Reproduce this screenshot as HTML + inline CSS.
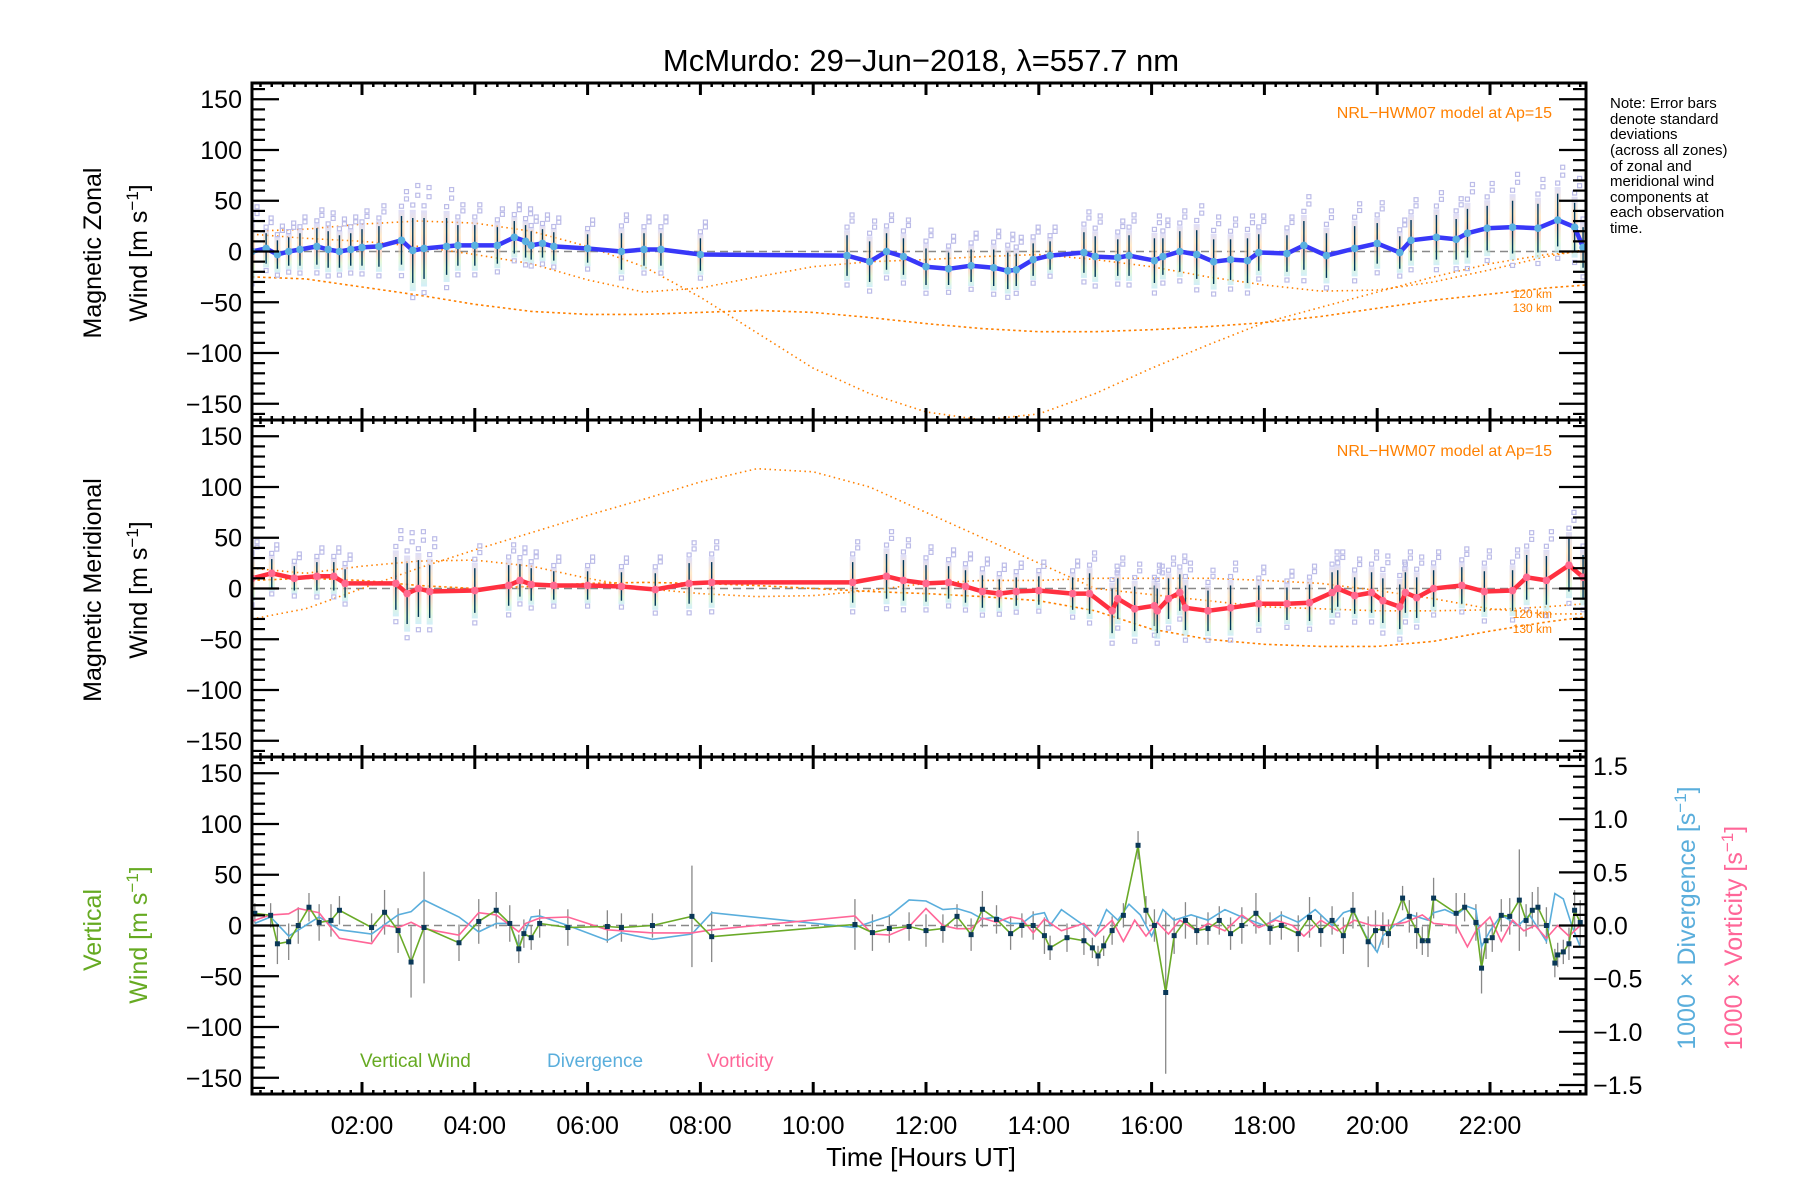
<!DOCTYPE html>
<html><head><meta charset="utf-8">
<style>
html,body{margin:0;padding:0;background:#fff;}
svg{display:block;font-family:"Liberation Sans",sans-serif;}
</style></head>
<body>
<svg id="chart" width="1800" height="1200" viewBox="0 0 1800 1200" xmlns="http://www.w3.org/2000/svg">
<defs>
<linearGradient id="band" x1="0" y1="0" x2="0" y2="1">
<stop offset="0" stop-color="#c8c8f4"/><stop offset="0.3" stop-color="#ffdca8"/>
<stop offset="0.55" stop-color="#ffb4a4"/><stop offset="0.8" stop-color="#d4f4c0"/>
<stop offset="1" stop-color="#b4e4f4"/></linearGradient>
<clipPath id="c1"><rect x="252" y="83" width="1334" height="337"/></clipPath>
<clipPath id="c2"><rect x="252" y="420" width="1334" height="337"/></clipPath>
<clipPath id="c3"><rect x="252" y="757" width="1334" height="336"/></clipPath>
</defs>
<text x="921" y="71" font-size="31" text-anchor="middle">McMurdo: 29−Jun−2018, λ=557.7 nm</text>
<g font-size="15" fill="#000">
<text x="1610" y="108">Note: Error bars</text><text x="1610" y="124">denote standard</text>
<text x="1610" y="139">deviations</text><text x="1610" y="155">(across all zones)</text>
<text x="1610" y="171">of zonal and</text><text x="1610" y="186">meridional wind</text>
<text x="1610" y="202">components at</text><text x="1610" y="217">each observation</text>
<text x="1610" y="233">time.</text></g>
<g id="layer"></g>
</svg>
<script>
// ---- time axis
const xTickLabels = ["02:00","04:00","06:00","08:00","10:00","12:00","14:00","16:00","18:00","20:00","22:00"];
const xTickHours = [2,4,6,8,10,12,14,16,18,20,22];
const yTickValues = [150,100,50,0,-50,-100,-150];
const yTickLabels = ["150","100","50","0","−50","−100","−150"];
const rTickValues = [1.5,1.0,0.5,0.0,-0.5,-1.0,-1.5];
const rTickLabels = ["1.5","1.0","0.5","0.0","−0.5","−1.0","−1.5"];
// ---- zonal
const zT = [0.05,0.3,0.5,0.7,0.9,1.2,1.4,1.6,1.8,2.0,2.3,2.7,2.9,3.1,3.5,3.7,4.0,4.4,4.7,4.9,5.0,5.2,5.4,6.0,6.6,7.0,7.3,8.0,10.6,11.0,11.3,11.6,12.0,12.4,12.8,13.2,13.45,13.6,13.9,14.2,14.8,15.0,15.4,15.6,16.05,16.2,16.5,16.8,17.1,17.4,17.7,17.9,18.4,18.7,19.1,19.6,20.0,20.4,20.6,21.05,21.4,21.6,21.95,22.4,22.85,23.2,23.5,23.65];
const zV = [0,3,-3,0,2,5,2,0,2,4,5,11,1,3,5,6,6,6,14,10,6,8,5,3,0,2,2,-3,-4,-10,0,-5,-15,-17,-14,-16,-19,-18,-8,-4,-1,-5,-6,-4,-9,-5,0,-3,-10,-8,-9,-1,-2,6,-4,3,8,-1,11,14,12,18,23,24,23,31,24,4];
const zSd = [22,15,14,14,16,18,18,16,16,18,20,24,32,30,28,20,20,18,16,16,14,14,14,14,18,16,16,16,20,20,18,18,18,16,16,18,18,16,16,14,20,20,18,20,22,18,20,24,22,20,22,18,18,24,22,22,20,16,20,22,20,24,22,26,24,26,24,20];
// ---- meridional
const mT = [0.05,0.4,0.8,1.2,1.5,1.7,2.6,2.8,3.0,3.2,4.0,4.6,4.8,5.0,5.4,6.0,6.6,7.2,7.8,8.2,10.7,11.3,11.6,12.0,12.4,12.7,13.0,13.3,13.6,14.0,14.6,14.9,15.3,15.4,15.7,16.05,16.1,16.3,16.5,16.6,17.0,17.4,17.9,18.4,18.8,19.2,19.3,19.6,19.9,20.1,20.4,20.5,20.7,21.0,21.5,21.9,22.4,22.65,23.0,23.4,23.65];
const mV = [10,15,10,12,12,5,5,-5,0,-3,-2,3,8,4,3,3,2,-1,5,6,6,12,8,5,6,2,-3,-5,-3,-2,-5,-5,-22,-10,-20,-17,-22,-10,-4,-19,-22,-19,-15,-15,-14,-4,0,-7,-4,-12,-18,-4,-9,0,3,-3,-2,11,8,23,11];
const mSd = [18,14,12,14,14,14,26,30,28,26,22,20,16,16,14,14,14,16,20,20,20,22,20,18,16,16,16,14,14,14,16,20,22,20,22,20,22,20,18,22,20,22,18,16,18,20,18,18,20,22,22,20,20,18,18,20,20,22,24,26,22];
// ---- model curves (NRL-HWM07)
const modelT = [0.05,1,2,3,4,5,6,7,8,9,10,11,12,13,14,15,16,17,18,19,20,21,22,23,23.7];
const zModelA = [20,22,27,30,28,20,5,-15,-45,-80,-115,-140,-158,-166,-160,-140,-115,-92,-70,-55,-40,-25,-12,-3,0];
const zModelB = [-25,-27,-35,-43,-52,-59,-62,-62,-60,-58,-60,-65,-71,-76,-79,-79,-77,-74,-70,-64,-56,-48,-42,-36,-33];
const zModelC = [17,13,10,5,-3,-12,-28,-40,-36,-25,-15,-10,-8,-5,-3,-8,-15,-25,-33,-39,-38,-30,-18,-5,2];
const mModelP = [-30,-20,0,20,38,55,72,88,105,118,115,100,75,50,25,0,-6,-12,-18,-20,-22,-22,-21,-18,-15];
const mModelQ = [20,15,22,27,28,22,10,0,-5,-8,-7,-2,5,8,8,10,10,10,8,5,-2,-10,-20,-25,-25];
const mModelR = [8,10,8,3,0,2,5,6,5,3,0,-3,-5,-8,-12,-22,-40,-50,-55,-57,-57,-52,-42,-33,-28];
// ---- vertical wind
const wT = [0.1,0.38,0.5,0.7,0.87,1.06,1.24,1.45,1.6,2.17,2.4,2.64,2.87,3.1,3.72,4.07,4.38,4.62,4.78,4.87,5.0,5.15,5.65,6.35,6.6,7.15,7.85,8.2,10.74,11.05,11.35,11.7,12.0,12.3,12.55,12.8,13.0,13.25,13.5,13.7,13.9,14.1,14.2,14.5,14.8,14.95,15.05,15.15,15.3,15.5,15.76,15.9,16.05,16.25,16.4,16.6,16.8,17.0,17.2,17.4,17.6,17.85,18.1,18.3,18.6,18.8,19.0,19.2,19.4,19.57,19.84,19.97,20.1,20.2,20.45,20.57,20.7,20.8,20.9,21.0,21.4,21.55,21.75,21.85,21.93,22.04,22.2,22.35,22.52,22.64,22.75,22.85,23.0,23.15,23.2,23.3,23.4,23.5,23.6];
const wV = [12,10,-18,-16,0,18,3,5,15,-2,13,-5,-36,-2,-17,4,15,2,-23,-8,-12,2,-2,-1,-2,0,9,-11,1,-7,-3,-1,-5,-3,9,-9,16,6,-8,0,0,-10,-22,-12,-15,-22,-30,-20,-5,10,79,15,0,-66,-10,5,-5,-3,5,-8,0,12,-3,0,-8,8,-5,5,-10,15,-16,-5,-3,-8,27,9,-5,-15,-15,27,12,18,3,-42,-15,-12,10,9,25,5,15,18,0,-37,-29,-26,-18,15,3];
const wE = [10,12,20,18,18,14,18,16,14,14,22,22,35,55,18,22,18,18,14,14,12,14,18,16,14,12,50,25,25,18,14,14,16,14,12,16,18,14,16,12,14,18,12,14,14,10,10,10,14,12,14,14,16,80,18,18,14,16,14,16,18,20,16,14,18,20,16,14,18,18,25,20,16,14,12,16,18,14,16,20,20,14,18,25,18,14,16,18,50,16,18,20,18,14,12,12,16,20,22];
// ---- divergence (1000 x s^-1)
const dT = [0.1,0.38,0.7,1.24,1.6,2.17,2.64,2.87,3.1,3.72,4.07,4.38,4.62,4.78,5.0,5.15,5.65,6.35,6.6,7.15,7.85,8.2,10.74,11.35,11.7,12.0,12.3,12.55,12.8,13.0,13.25,13.5,13.7,13.9,14.1,14.2,14.4,14.8,15.0,15.2,15.4,15.6,15.8,16.0,16.2,16.4,16.7,17.0,17.3,17.6,18.0,18.3,18.6,18.9,19.2,19.4,19.57,19.8,20.0,20.1,20.3,20.6,20.9,21.0,21.2,21.4,21.6,21.75,21.85,22.0,22.2,22.5,22.7,23.0,23.15,23.3,23.45,23.6];
const dV = [0.02,0.08,-0.1,0.08,-0.04,-0.08,0.1,0.13,0.24,0.08,-0.06,0.02,0.02,-0.2,0.08,0.09,0,-0.14,-0.07,-0.13,-0.08,0.12,-0.02,0.09,0.24,0.23,0.15,0.16,0.12,0.06,0.08,0.02,0.02,0.1,0.12,0,0.15,0.0,-0.1,0.15,0.05,0.2,0.1,-0.1,0.15,0.05,0.1,0.05,0.15,0.08,0.0,0.1,0.03,0.15,0.0,0.12,0.15,-0.1,-0.25,-0.1,0.0,0.1,0.05,0.12,0.15,0.1,0.18,0.15,-0.2,-0.05,0.1,0.0,0.1,-0.15,0.3,0.25,0.0,-0.2];
// ---- vorticity (1000 x s^-1)
const vT = [0.05,0.38,0.7,0.87,1.24,1.6,2.17,2.4,2.64,2.87,3.1,3.72,4.07,4.38,4.78,4.9,5.15,5.65,6.35,7.15,7.85,8.2,10.74,11.05,11.35,11.7,12.0,12.3,12.55,12.8,13.0,13.25,13.5,13.7,13.9,14.1,14.4,14.8,15.0,15.3,15.5,15.7,15.9,16.1,16.3,16.5,16.8,17.0,17.3,17.6,17.9,18.2,18.5,18.7,19.0,19.3,19.6,19.9,20.2,20.5,20.8,21.0,21.4,21.6,21.75,22.0,22.2,22.4,22.6,22.8,23.0,23.2,23.4,23.6];
const vV = [0.04,0.1,0.11,0.16,0.12,-0.12,-0.17,0,-0.02,0.03,-0.03,-0.09,0.12,0.1,-0.06,0.02,0.07,0.08,-0.04,-0.07,-0.07,-0.04,0.09,-0.08,-0.09,-0.01,0.16,0,-0.03,-0.03,0.07,0.03,0.08,0.06,-0.07,0.06,-0.05,0.02,-0.1,0.05,-0.15,0.05,-0.1,0.03,-0.08,0.05,-0.05,0.02,-0.05,0.1,-0.02,0.05,0.0,-0.1,0.05,-0.05,0.05,0.0,0.0,0.03,0.1,0.02,0.0,-0.2,-0.05,0.08,-0.15,0.05,-0.05,0.0,-0.12,0.0,-0.1,0.0];

const NS = "http://www.w3.org/2000/svg";
const layer = document.getElementById('layer');
const L = 252, R = 1586, PT = [83, 420, 757], PH = 337, VMAX = 166, RMAX = 1.585;
function xOf(t){ return 362 + (t - 2) * 56.4; }
function yOf(p, v){ return PT[p] + (VMAX - v) * PH / (2 * VMAX); }
function yR(v){ return PT[2] + (RMAX - v) * PH / (2 * RMAX); }
function mk(tag, attrs, parent){
  const e = document.createElementNS(NS, tag);
  for (const k in attrs) e.setAttribute(k, attrs[k]);
  (parent || layer).appendChild(e);
  return e;
}
function grp(name, clip){
  const g = mk('g', clip ? {'clip-path': 'url(#' + clip + ')'} : {});
  
  
  return g;
}
function pts(T, V, fy){ return T.map((t, i) => xOf(t).toFixed(1) + ',' + fy(V[i]).toFixed(1)).join(' '); }

for (let p = 0; p < 3; p++){
  const l = mk('line', {x1: L, x2: R, y1: yOf(p, 0), y2: yOf(p, 0), stroke: '#888', 'stroke-width': 1.5, 'stroke-dasharray': '8 5'});
  
  
}

function model(p, V, dash, name){
  const g = grp(name, 'c' + (p + 1));
  const pl = mk('polyline', {points: pts(modelT, V, v => yOf(p, v)), fill: 'none', stroke: '#ff8000', 'stroke-width': 1.6, 'stroke-dasharray': dash}, g);
  
  
}
model(0, zModelA, '1.5 3.5', 'zonal-model-120km');
model(0, zModelB, '2.5 3', 'zonal-model-130km');
model(0, zModelC, '1.5 3.5', 'zonal-model-alt');
model(1, mModelP, '1.5 3.5', 'meridional-model-120km');
model(1, mModelQ, '1.5 3.5', 'meridional-model-alt');
model(1, mModelR, '2.5 3', 'meridional-model-130km');

function windPanel(p, T, V, SD, lineColor, dotColor, name){
  const g = grp(name, 'c' + (p + 1));
  T.forEach((t, i) => {
    const x = xOf(t), v = V[i], s = SD[i];
    const b = mk('rect', {x: x - 3, y: yOf(p, v + s * 1.25), width: 6, height: yOf(p, v - s * 1.25) - yOf(p, v + s * 1.25), fill: 'url(#band)', opacity: 0.6}, g);
    
    
    [1.4, 1.7, 2.0, -1.45].forEach(f => {
      const q = mk('rect', {x: x - 2 + (f > 1.6 ? 5 : 0), y: yOf(p, v + s * f) - 2, width: 4, height: 4, fill: 'none', stroke: '#bcbce8', 'stroke-width': 1.2}, g);
      
      
    });
    const e = mk('line', {x1: x, x2: x, y1: yOf(p, v + s), y2: yOf(p, v - s), stroke: '#00385a', 'stroke-width': 1.4}, g);
    
    
  });
  const pl = mk('polyline', {points: pts(T, V, v => yOf(p, v)), fill: 'none', stroke: lineColor, 'stroke-width': 4.5, 'stroke-linejoin': 'round'}, g);
  
  
  T.forEach((t, i) => {
    const c = mk('circle', {cx: xOf(t), cy: yOf(p, V[i]), r: 3.8, fill: dotColor}, g);
    
    
  });
}
windPanel(0, zT, zV, zSd, '#3838f8', '#5ab0e0', 'zonal-wind-series');
windPanel(1, mT, mV, mSd, '#ff3040', '#ff6a90', 'meridional-wind-series');

{
  const g = grp('vertical-panel-series', 'c3');
  wT.forEach((t, i) => {
    const e = mk('line', {x1: xOf(t), x2: xOf(t), y1: yOf(2, wV[i] + wE[i]), y2: yOf(2, wV[i] - wE[i]), stroke: '#888', 'stroke-width': 1.3}, g);
    
    
  });
  const d = mk('polyline', {points: pts(dT, dV, yR), fill: 'none', stroke: '#5aaedc', 'stroke-width': 1.6}, g);
  
  
  const vo = mk('polyline', {points: pts(vT, vV, yR), fill: 'none', stroke: '#ff6698', 'stroke-width': 1.6}, g);
  
  
  const w = mk('polyline', {points: pts(wT, wV, v => yOf(2, v)), fill: 'none', stroke: '#6aaa28', 'stroke-width': 1.6}, g);
  
  
  wT.forEach((t, i) => {
    const s = mk('rect', {x: xOf(t) - 2.5, y: yOf(2, wV[i]) - 2.5, width: 5, height: 5, fill: '#0a3858'}, g);
    
    
  });
}

const ax = grp('axes', null);
for (let p = 0; p < 3; p++){
  const top = PT[p], bot = top + PH;
  const fr = mk('rect', {x: L, y: top, width: R - L, height: PH, fill: 'none', stroke: '#000', 'stroke-width': 3}, ax);
  
  
  for (let v = -160; v <= 160; v += 10){
    const y = yOf(p, v), major = v % 50 === 0, len = major ? 27 : 13;
    mk('line', {x1: L, x2: L + len, y1: y, y2: y, stroke: '#000', 'stroke-width': 2.2}, ax);
    if (p < 2) mk('line', {x1: R, x2: R - len, y1: y, y2: y, stroke: '#000', 'stroke-width': 2.2}, ax);
  }
  yTickValues.forEach((v, i) => {
    const t = mk('text', {x: 242, y: yOf(p, v) + 9, 'font-size': 25, 'text-anchor': 'end'}, ax);
    t.textContent = yTickLabels[i];
    
    
  });
  for (let k = 0; k <= 120; k++){
    const t = k * 0.2;
    const x = xOf(t);
    if (x < L || x > R) continue;
    const major = k % 10 === 0 && k > 0, len = major ? 12 : 4;
    mk('line', {x1: x, x2: x, y1: top, y2: top + len, stroke: '#000', 'stroke-width': major ? 3 : 2.5}, ax);
    mk('line', {x1: x, x2: x, y1: bot, y2: bot - len, stroke: '#000', 'stroke-width': major ? 3 : 2.5}, ax);
  }
}
for (let k = -15; k <= 15; k++){
  const v = k / 10, y = yR(v), major = k % 5 === 0, len = major ? 27 : 13;
  mk('line', {x1: R, x2: R - len, y1: y, y2: y, stroke: '#000', 'stroke-width': 2.2}, ax);
}
rTickValues.forEach((v, i) => {
  const t = mk('text', {x: 1593, y: yR(v) + 9, 'font-size': 25}, ax);
  t.textContent = rTickLabels[i];
  
  
});
xTickHours.forEach((h, i) => {
  const t = mk('text', {x: xOf(h), y: 1134, 'font-size': 25, 'text-anchor': 'middle'}, ax);
  t.textContent = xTickLabels[i];
  
  
});
</script>
<script>
(function(){
  const svg = document.getElementById('chart');
  const NS = "http://www.w3.org/2000/svg";
  function txt(name, s, attrs, col){
    const t = document.createElementNS(NS, 'text');
    for (const k in attrs) t.setAttribute(k, attrs[k]);
    if (col) t.setAttribute('fill', col);
    t.innerHTML = s;
    
    
    svg.appendChild(t);
  }
  const sup = '<tspan baseline-shift="super" font-size="17">−1</tspan>';
  txt('x-axis-title', 'Time [Hours UT]', {x: 921, y: 1166, 'font-size': 26, 'text-anchor': 'middle'});
  txt('zonal-y-title-1', 'Magnetic Zonal', {transform: 'translate(101,253) rotate(-90)', 'font-size': 25, 'text-anchor': 'middle'});
  txt('zonal-y-title-2', 'Wind [m s' + sup + ']', {transform: 'translate(147,253) rotate(-90)', 'font-size': 25, 'text-anchor': 'middle'});
  txt('meridional-y-title-1', 'Magnetic Meridional', {transform: 'translate(101,590) rotate(-90)', 'font-size': 25, 'text-anchor': 'middle'});
  txt('meridional-y-title-2', 'Wind [m s' + sup + ']', {transform: 'translate(147,590) rotate(-90)', 'font-size': 25, 'text-anchor': 'middle'});
  txt('vertical-y-title-1', 'Vertical', {transform: 'translate(101,930) rotate(-90)', 'font-size': 25, 'text-anchor': 'middle'}, '#66aa22');
  txt('vertical-y-title-2', 'Wind [m s' + sup + ']', {transform: 'translate(147,935) rotate(-90)', 'font-size': 25, 'text-anchor': 'middle'}, '#66aa22');
  txt('divergence-axis-title', '1000 × Divergence [s' + sup + ']', {transform: 'translate(1695,918) rotate(-90)', 'font-size': 25, 'text-anchor': 'middle'}, '#5aaedc');
  txt('vorticity-axis-title', '1000 × Vorticity [s' + sup + ']', {transform: 'translate(1742,938) rotate(-90)', 'font-size': 25, 'text-anchor': 'middle'}, '#ff6698');
  txt('zonal-model-label', 'NRL−HWM07 model at Ap=15', {x: 1552, y: 118, 'font-size': 16, 'text-anchor': 'end'}, '#ff8000');
  txt('meridional-model-label', 'NRL−HWM07 model at Ap=15', {x: 1552, y: 456, 'font-size': 16, 'text-anchor': 'end'}, '#ff8000');
  txt('zonal-120km-label', '120 km', {x: 1552, y: 298, 'font-size': 12, 'text-anchor': 'end'}, '#ff8000');
  txt('zonal-130km-label', '130 km', {x: 1552, y: 312, 'font-size': 12, 'text-anchor': 'end'}, '#ff8000');
  txt('meridional-120km-label', '120 km', {x: 1552, y: 618, 'font-size': 12, 'text-anchor': 'end'}, '#ff8000');
  txt('meridional-130km-label', '130 km', {x: 1552, y: 633, 'font-size': 12, 'text-anchor': 'end'}, '#ff8000');
  txt('legend-vertical-wind', 'Vertical Wind', {x: 360, y: 1067, 'font-size': 19}, '#66aa22');
  txt('legend-divergence', 'Divergence', {x: 547, y: 1067, 'font-size': 19}, '#5aaedc');
  txt('legend-vorticity', 'Vorticity', {x: 707, y: 1067, 'font-size': 19}, '#ff6698');
})();
</script>
</body></html>
